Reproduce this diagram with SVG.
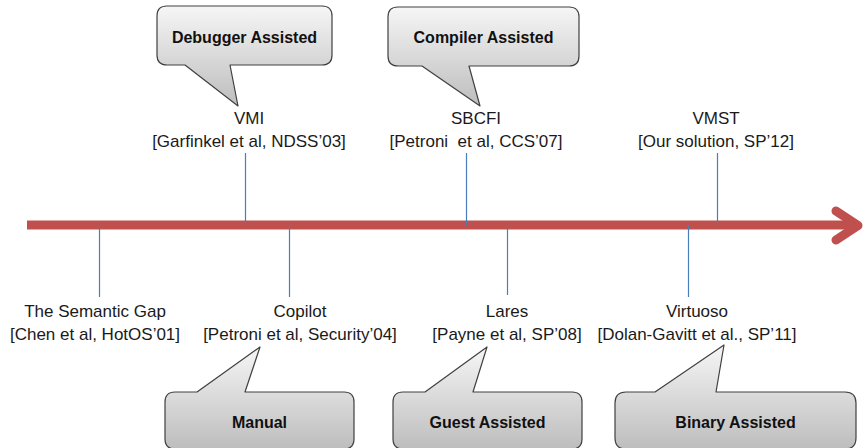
<svg xmlns="http://www.w3.org/2000/svg" width="866" height="448" viewBox="0 0 866 448">
<defs>
<linearGradient id="cg" x1="0" y1="0" x2="0" y2="1">
<stop offset="0" stop-color="#f6f6f6"/>
<stop offset="1" stop-color="#bdbdbd"/>
</linearGradient>
<style>
.lbl{font-family:"Liberation Sans",Arial,sans-serif;font-size:17px;fill:#1a1a1a;text-anchor:middle}
.co{fill:url(#cg);stroke:#404040;stroke-width:1.2;stroke-linejoin:round}
.ct{font-family:"Liberation Sans",Arial,sans-serif;font-size:16px;font-weight:bold;fill:#111;text-anchor:middle}
.tick{stroke:#4a7ebb;stroke-width:1.2;fill:none}
</style>
</defs>
<rect width="866" height="448" fill="#ffffff"/>
<g id="timeline">
<line x1="27" y1="225" x2="858" y2="225" stroke="#c0504d" stroke-width="9"/>
<polyline points="836,211 858,225.5 836,240" fill="none" stroke="#c0504d" stroke-width="9" stroke-linecap="round" stroke-linejoin="round"/>
</g>
<g id="connectors">
<line class="tick" x1="245.5" y1="153" x2="245.5" y2="225"/>
<line class="tick" x1="466.5" y1="153" x2="466.5" y2="225"/>
<line class="tick" x1="717.5" y1="153" x2="717.5" y2="225"/>
<line class="tick" x1="99.5" y1="225" x2="99.5" y2="297"/>
<line class="tick" x1="289.5" y1="225" x2="289.5" y2="297"/>
<line class="tick" x1="507.5" y1="225" x2="507.5" y2="295"/>
<line class="tick" x1="688.5" y1="225" x2="688.5" y2="297"/>
</g>
<g id="vmi"><text class="lbl" x="249" y="124">VMI</text><text class="lbl" x="249" y="147">[Garfinkel et al, NDSS’03]</text></g>
<g id="sbcfi"><text class="lbl" x="476" y="124">SBCFI</text><text class="lbl" x="476" y="147" xml:space="preserve">[Petroni  et al, CCS’07]</text></g>
<g id="vmst"><text class="lbl" x="716" y="124">VMST</text><text class="lbl" x="716" y="147">[Our solution, SP’12]</text></g>
<g id="semgap"><text class="lbl" x="95" y="317">The Semantic Gap</text><text class="lbl" x="95" y="340">[Chen et al, HotOS’01]</text></g>
<g id="copilot"><text class="lbl" x="300" y="317">Copilot</text><text class="lbl" x="300" y="340">[Petroni et al, Security’04]</text></g>
<g id="lares"><text class="lbl" x="507" y="317">Lares</text><text class="lbl" x="507" y="340">[Payne et al, SP’08]</text></g>
<g id="virtuoso"><text class="lbl" x="697" y="317">Virtuoso</text><text class="lbl" x="697" y="340">[Dolan-Gavitt et al., SP’11]</text></g>
<g id="debugger">
<path class="co" d="M167,6 H322 Q332,6 332,16 V55 Q332,65 322,65 H230 L238,106 L185,65 H167 Q157,65 157,55 V16 Q157,6 167,6 Z"/>
<text class="ct" x="244.5" y="43">Debugger Assisted</text>
</g>
<g id="compiler">
<path class="co" d="M398,7 H569 Q579,7 579,17 V56 Q579,66 569,66 H469 L480,106 L422,66 H398 Q388,66 388,56 V17 Q388,7 398,7 Z"/>
<text class="ct" x="483.5" y="43">Compiler Assisted</text>
</g>
<g id="manual">
<path class="co" d="M175,392 H197 L260,347 L245,392 H344 Q354,392 354,402 V439 Q354,449 344,449 H175 Q165,449 165,439 V402 Q165,392 175,392 Z"/>
<text class="ct" x="259.5" y="428">Manual</text>
</g>
<g id="guest">
<path class="co" d="M403,392 H425 L487,347 L473,392 H572 Q582,392 582,402 V439 Q582,449 572,449 H403 Q393,449 393,439 V402 Q393,392 403,392 Z"/>
<text class="ct" x="487.5" y="428">Guest Assisted</text>
</g>
<g id="binary">
<path class="co" d="M626,392 H655 L724,345 L716,392 H845 Q856,392 856,403 V438 Q856,449 845,449 H626 Q615,449 615,438 V403 Q615,392 626,392 Z"/>
<text class="ct" x="735.5" y="428">Binary Assisted</text>
</g>
</svg>
